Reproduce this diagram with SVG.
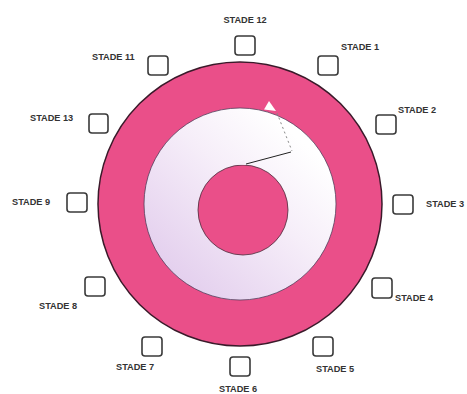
<svg xmlns="http://www.w3.org/2000/svg" width="467" height="394" viewBox="0 0 467 394">
<defs>
<linearGradient id="lav" x1="0.85" y1="0.2" x2="0.2" y2="0.9">
<stop offset="0" stop-color="#ffffff"/>
<stop offset="0.4" stop-color="#f6eef9"/>
<stop offset="1" stop-color="#e4d0ee"/>
</linearGradient>
<style>
.box{fill:#fff;stroke:#3a3a3a;stroke-width:1.6}
.lbl{font-family:"Liberation Sans",Arial,sans-serif;font-size:9.2px;font-weight:bold;fill:#333}
</style>
</defs>
<rect width="467" height="394" fill="#fff"/>
<g id="wheel">
<circle cx="240" cy="204" r="142" fill="#ea4f89" stroke="#3a1a2a" stroke-width="1.5"/>
<circle cx="240" cy="204" r="96" fill="url(#lav)" stroke="#4a3a55" stroke-width="1" stroke-opacity="0.75"/>
<polygon points="264,109.5 269,101 276,111" fill="#fff"/>
<circle cx="243" cy="210" r="45" fill="#ea4f89" stroke="#4a2a3a" stroke-width="0.8"/>
<polygon points="236,164.5 244,160 246,165" fill="#f6eef8"/>
</g>
<g id="connectors">
<line x1="277" y1="113" x2="292" y2="151" stroke="#888" stroke-width="1" stroke-dasharray="2,3"/>
<line x1="291" y1="152" x2="246" y2="164" stroke="#222" stroke-width="1"/>
</g>
<g id="stade12"><rect class="box" x="235" y="36" width="20" height="19" rx="3"/><text class="lbl" x="245" y="23" text-anchor="middle">STADE 12</text></g>
<g id="stade1"><rect class="box" x="318" y="56" width="20" height="19" rx="3"/><text class="lbl" x="341" y="50">STADE 1</text></g>
<g id="stade11"><rect class="box" x="148" y="56" width="20" height="19" rx="3"/><text class="lbl" x="92" y="60">STADE 11</text></g>
<g id="stade13"><rect class="box" x="89" y="114" width="19" height="19" rx="3"/><text class="lbl" x="30" y="121">STADE 13</text></g>
<g id="stade2"><rect class="box" x="376" y="115" width="20" height="19" rx="3"/><text class="lbl" x="398" y="113">STADE 2</text></g>
<g id="stade9"><rect class="box" x="67" y="193" width="20" height="19" rx="3"/><text class="lbl" x="12" y="205">STADE 9</text></g>
<g id="stade3"><rect class="box" x="393" y="195" width="20" height="19" rx="3"/><text class="lbl" x="426" y="207">STADE 3</text></g>
<g id="stade8"><rect class="box" x="85" y="277" width="20" height="19" rx="3"/><text class="lbl" x="39" y="309">STADE 8</text></g>
<g id="stade4"><rect class="box" x="372" y="278" width="20" height="20" rx="3"/><text class="lbl" x="395" y="301">STADE 4</text></g>
<g id="stade7"><rect class="box" x="142" y="337" width="20" height="19" rx="3"/><text class="lbl" x="116" y="370">STADE 7</text></g>
<g id="stade6"><rect class="box" x="230" y="357" width="20" height="19" rx="3"/><text class="lbl" x="219" y="392">STADE 6</text></g>
<g id="stade5"><rect class="box" x="313" y="337" width="20" height="19" rx="3"/><text class="lbl" x="316" y="372">STADE 5</text></g>
</svg>
